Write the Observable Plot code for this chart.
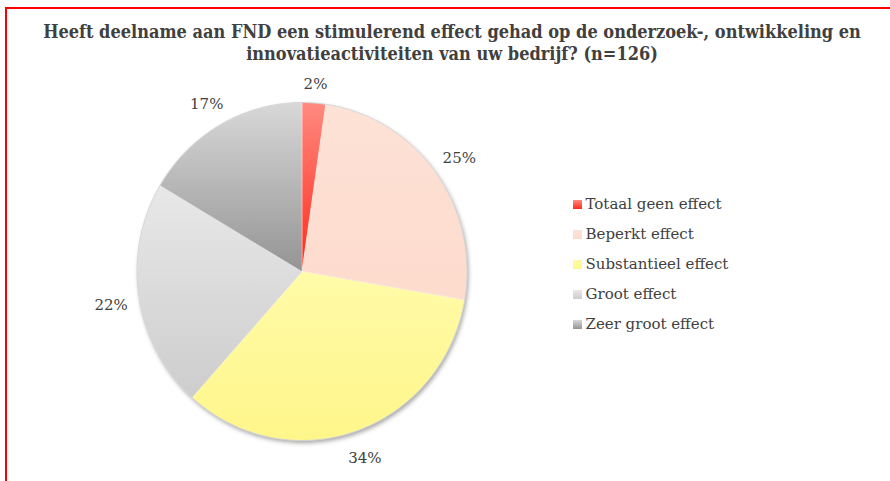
<!DOCTYPE html>
<html>
<head>
<meta charset="utf-8">
<script src="https://cdn.jsdelivr.net/npm/d3@7"></script>
<script src="https://cdn.jsdelivr.net/npm/@observablehq/plot@0.6"></script>
<style>
  html, body { margin: 0; padding: 0; background: #fff; }
  #wrap { position: relative; width: 890px; height: 481px; overflow: hidden; background: #fff; }
  #frame { position: absolute; left: 5px; top: 7px; right: -10px; bottom: -10px;
           border-left: 2px solid #ff0000; border-top: 2px solid #ff0000; }
  #title { position: absolute; left: 14px; width: 876px; top: 21px; text-align: center;
           font-family: "DejaVu Serif Condensed", "DejaVu Serif", serif; font-weight: bold;
           font-size: 18px; line-height: 22px; color: #404040; }
  #pie { position: absolute; left: 0; top: 0; }
  #legend { position: absolute; left: 566px; top: 184px; }
</style>
</head>
<body>
<div id="wrap">
  <div id="pie"></div>
  <div id="legend"></div>
  <div id="frame"></div>
  <div id="title">Heeft deelname aan FND een stimulerend effect gehad op de onderzoek-, ontwikkeling en<br>innovatieactiviteiten van uw bedrijf? (n=126)</div>
</div>
<script>
// ---- data ----
const categories = ["Totaal geen effect", "Beperkt effect", "Substantieel effect", "Groot effect", "Zeer groot effect"];
const values = [2.3, 25.4, 33.9, 21.9, 16.5];   // shares (%)
const labels = values.map(v => `${Math.round(v)}%`);
const colorTop = ["#ff8a80", "#fde2d6", "#fffba8", "#e8e8e8", "#d8d8d8"];
const colorBottom = ["#ff2a1a", "#fddbcd", "#fff68a", "#cdcdcd", "#949494"];

// ---- layout ----
const W = 890, H = 481;
const cx = 301.5, cy = 271, rx = 165, ry = 169;
const gap = 12, halfW = 15, halfH = 9;   // label box offsets, px

const total = d3.sum(values);
let acc = 0;
const slices = values.map((v, i) => {
  const a0 = acc / total * 2 * Math.PI;
  acc += v;
  const a1 = acc / total * 2 * Math.PI;
  return {i, cat: categories[i], v, a0, a1, mid: (a0 + a1) / 2};
});

function wedge(s) {
  const pts = [{x: 0, y: 0}];
  const n = Math.max(4, Math.ceil((s.a1 - s.a0) / (Math.PI / 180)));
  for (let k = 0; k <= n; k++) {
    const a = s.a0 + (s.a1 - s.a0) * k / n;
    pts.push({x: Math.sin(a), y: Math.cos(a)});
  }
  pts.push({x: 0, y: 0});
  return pts;
}
const circle = d3.range(0, 361, 2).map(d => ({x: Math.sin(d * Math.PI / 180), y: Math.cos(d * Math.PI / 180)}));
const labelData = slices.map(s => {
  const sx = Math.sin(s.mid), sy = Math.cos(s.mid);
  const extra = gap + Math.abs(sx) * halfW + Math.abs(sy) * halfH;
  return {x: sx * (1 + extra / rx), y: sy * (1 + extra / ry), text: labels[s.i]};
});

const font = '"DejaVu Serif", serif';

const pie = Plot.plot({
  width: W, height: H,
  margin: 0,
  x: {domain: [(0 - cx) / rx, (W - cx) / rx], axis: null},
  y: {domain: [(cy - H) / ry, cy / ry], axis: null},
  style: {background: "transparent", overflow: "visible"},
  marks: [
    Plot.line(circle, {x: "x", y: "y", fill: "#000", fillOpacity: 0.35, stroke: "none", dx: 1.5, dy: 2.5}),
    ...slices.map(s => Plot.line(wedge(s), {x: "x", y: "y", fill: `url(#grad${s.i})`, stroke: "#ffffff", strokeOpacity: 0.5, strokeWidth: 0.7, strokeLinejoin: "round", curve: "linear"})),
    Plot.line(circle, {x: "x", y: "y", stroke: "#cfcfcf", strokeWidth: 0.8, fill: "none"}),
    Plot.text(labelData, {x: "x", y: "y", text: "text", dy: 3, fontSize: 15, fill: "#404040", fontFamily: font})
  ]
});

// gradients + shadow blur
const ns = "http://www.w3.org/2000/svg";
const defs = document.createElementNS(ns, "defs");
colorTop.forEach((c, i) => {
  const g = document.createElementNS(ns, "linearGradient");
  g.setAttribute("id", `grad${i}`);
  g.setAttribute("x1", "0"); g.setAttribute("y1", "0");
  g.setAttribute("x2", "0"); g.setAttribute("y2", "1");
  const s0 = document.createElementNS(ns, "stop");
  s0.setAttribute("offset", "0"); s0.setAttribute("stop-color", c);
  const s1 = document.createElementNS(ns, "stop");
  s1.setAttribute("offset", "1"); s1.setAttribute("stop-color", colorBottom[i]);
  g.appendChild(s0); g.appendChild(s1);
  defs.appendChild(g);
});
const filt = document.createElementNS(ns, "filter");
filt.setAttribute("id", "blur");
filt.setAttribute("x", "-10%"); filt.setAttribute("y", "-10%");
filt.setAttribute("width", "120%"); filt.setAttribute("height", "120%");
const fb = document.createElementNS(ns, "feGaussianBlur");
fb.setAttribute("stdDeviation", "2");
filt.appendChild(fb);
defs.appendChild(filt);
pie.insertBefore(defs, pie.firstChild);
const lineGroups = pie.querySelectorAll("g[aria-label='line']");
if (lineGroups.length) lineGroups[0].setAttribute("filter", "url(#blur)");
document.getElementById("pie").appendChild(pie);

// legend
const legend = Plot.plot({
  width: 220, height: 160,
  marginTop: 5, marginBottom: 5, marginLeft: 0, marginRight: 0,
  y: {domain: categories, axis: null, padding: 0.5},
  style: {background: "transparent", overflow: "visible"},
  marks: [
    ...categories.map((c, i) => Plot.dot([c], {y: d => d, frameAnchor: "left", dx: 11, symbol: "square", r: 5.1, fill: `url(#grad${i})`, stroke: "none"})),
    Plot.text(categories, {y: d => d, text: d => d, frameAnchor: "left", dx: 19, textAnchor: "start", fontSize: 15, fill: "#404040", fontFamily: font})
  ]
});
document.getElementById("legend").appendChild(legend);
</script>
</body>
</html>
